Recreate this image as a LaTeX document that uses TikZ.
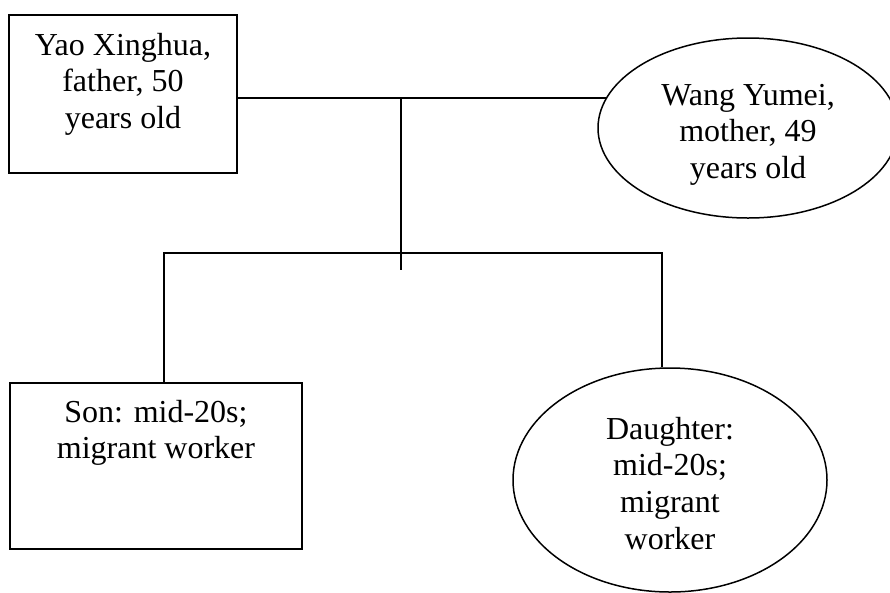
\documentclass[tikz,border=0pt]{standalone}
\usepackage{fontspec}
\setmainfont{Liberation Serif}
\usetikzlibrary{shapes.geometric}

% Text block of fixed size, centred lines, first baseline set by a strut
\newcommand{\famtext}[4]{%
  \begin{minipage}[c][#2][t]{#1}\centering
  \rule{0pt}{#3}#4\end{minipage}}

\tikzset{
  famline/.style={line width=1.5pt, line cap=rect},
  famrect/.style={draw, rectangle, line width=1.5pt, inner sep=0pt,
    font=\fontsize{32}{36.8}\selectfont},
  famoval/.style={draw, ellipse, line width=1.5pt, inner sep=0pt,
    font=\fontsize{32}{36.8}\selectfont},
}

\begin{document}
\begin{tikzpicture}[x=1pt, y=-1pt]
\useasboundingbox (0,0) rectangle (890,592);

% parents
\node[famrect, minimum width=228pt, minimum height=158pt] (father) at (123,94)
  {\famtext{228pt}{158pt}{40pt}{Yao Xinghua,\\father, 50\\years old}};
\node[famoval, minimum width=300pt, minimum height=180pt] (mother) at (748,128)
  {\famtext{200pt}{120pt}{37pt}{Wang Yumei,\\mother, 49\\years old}};

% children
\node[famrect, minimum width=292pt, minimum height=166pt] (son) at (156,466)
  {\famtext{292pt}{166pt}{39pt}{Son: mid-20s;\\migrant worker}};
\node[famoval, minimum width=314pt, minimum height=224pt] (daughter) at (670,480)
  {\famtext{200pt}{150pt}{34pt}{Daughter:\\mid-20s;\\migrant\\worker}};

% junction points of the tree
\coordinate (couple) at (401,99);
\coordinate (stem) at (401,270);
\coordinate (sonjoin) at (164,253);
\coordinate (daujoin) at (662,253);

% marriage line and descent line
\draw[famline, line cap=butt] (father.east |- mother.168) -- (mother.168);
\draw[famline, line cap=butt] (couple) -- (stem);

% sibling bar and drops to the children
\draw[famline, line cap=butt] (sonjoin |- son.north) -- (sonjoin) -- (daujoin) -- (daujoin |- daughter.north);
\end{tikzpicture}
\end{document}
